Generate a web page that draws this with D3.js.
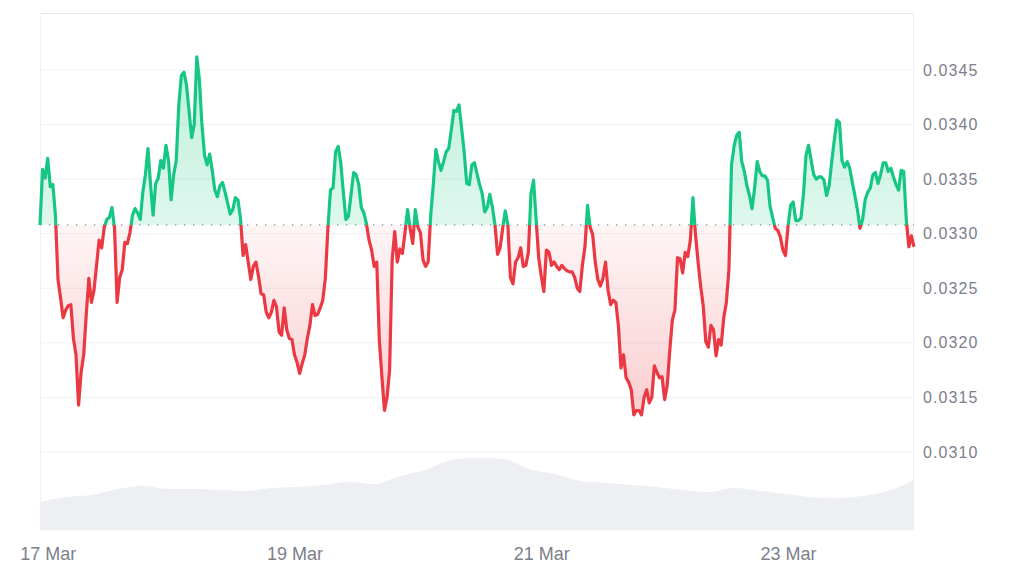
<!DOCTYPE html>
<html><head><meta charset="utf-8">
<script src="https://cdn.jsdelivr.net/npm/d3@7"></script>
<style>html,body{margin:0;padding:0;background:#fff;} svg{display:block;font-family:"Liberation Sans",Arial,sans-serif;}</style>
</head><body>
<svg id="chart" width="1024" height="576"></svg>
<script>
// ---- data ----
const startTime = Date.UTC(2024, 2, 16, 22, 30);
const stepHours = 0.5;
const prices = [
0.03308,0.03359,0.03351,0.03369,0.03343,0.03345,0.03317,0.03258,0.03241,0.03223,
0.03230,0.03234,0.03235,0.03204,0.03189,0.03143,0.03173,0.03189,0.03226,0.03259,
0.03237,0.03248,0.03271,0.03294,0.03287,0.03306,0.03313,0.03315,0.03324,0.03305,
0.03237,0.03260,0.03267,0.03292,0.03291,0.03301,0.03317,0.03323,0.03319,0.03313,
0.03338,0.03354,0.03378,0.03345,0.03317,0.03346,0.03351,0.03367,0.03360,0.03381,
0.03367,0.03331,0.03354,0.03367,0.03418,0.03445,0.03448,0.03436,0.03412,0.03388,
0.03400,0.03462,0.03441,0.03400,0.03372,0.03363,0.03373,0.03358,0.03340,0.03334,
0.03344,0.03347,0.03338,0.03328,0.03318,0.03322,0.03333,0.03331,0.03314,0.03280,
0.03290,0.03274,0.03258,0.03270,0.03274,0.03261,0.03245,0.03244,0.03228,0.03223,
0.03228,0.03239,0.03233,0.03210,0.03207,0.03232,0.03212,0.03204,0.03203,0.03189,
0.03182,0.03172,0.03181,0.03189,0.03204,0.03216,0.03235,0.03225,0.03226,0.03232,
0.03239,0.03259,0.03305,0.03340,0.03342,0.03375,0.03380,0.03365,0.03338,0.03313,
0.03316,0.03336,0.03356,0.03354,0.03345,0.03324,0.03319,0.03309,0.03294,0.03285,
0.03270,0.03274,0.03203,0.03169,0.03138,0.03150,0.03175,0.03276,0.03302,0.03274,
0.03286,0.03282,0.03301,0.03322,0.03305,0.03291,0.03322,0.03306,0.03301,0.03276,
0.03270,0.03274,0.03317,0.03345,0.03377,0.03366,0.03358,0.03366,0.03375,0.03378,
0.03395,0.03413,0.03412,0.03418,0.03397,0.03375,0.03346,0.03345,0.03363,0.03365,
0.03355,0.03345,0.03337,0.03320,0.03324,0.03336,0.03324,0.03308,0.03281,0.03287,
0.03305,0.03321,0.03308,0.03260,0.03254,0.03274,0.03278,0.03287,0.03270,0.03271,
0.03283,0.03337,0.03349,0.03313,0.03278,0.03261,0.03247,0.03285,0.03283,0.03271,
0.03274,0.03270,0.03267,0.03271,0.03268,0.03266,0.03265,0.03265,0.03260,0.03250,
0.03247,0.03271,0.03288,0.03326,0.03306,0.03299,0.03274,0.03258,0.03252,0.03259,
0.03274,0.03248,0.03235,0.03239,0.03237,0.03216,0.03177,0.03189,0.03168,0.03164,
0.03157,0.03134,0.03138,0.03138,0.03134,0.03150,0.03157,0.03145,0.03150,0.03179,
0.03173,0.03168,0.03169,0.03148,0.03161,0.03193,0.03221,0.03230,0.03278,0.03277,
0.03264,0.03283,0.03279,0.03294,0.03333,0.03299,0.03274,0.03252,0.03234,0.03201,
0.03196,0.03216,0.03212,0.03188,0.03203,0.03198,0.03223,0.03237,0.03267,0.03363,
0.03380,0.03390,0.03393,0.03366,0.03357,0.03344,0.03335,0.03323,0.03342,0.03366,
0.03357,0.03353,0.03353,0.03349,0.03325,0.03315,0.03305,0.03303,0.03297,0.03285,
0.03280,0.03307,0.03326,0.03329,0.03312,0.03312,0.03314,0.03336,0.03372,0.03381,
0.03367,0.03354,0.03350,0.03352,0.03352,0.03349,0.03335,0.03344,0.03366,0.03386,
0.03404,0.03402,0.03367,0.03361,0.03366,0.03360,0.03347,0.03335,0.03322,0.03305,
0.03313,0.03331,0.03338,0.03342,0.03354,0.03356,0.03346,0.03354,0.03365,0.03365,
0.03357,0.03360,0.03352,0.03345,0.03340,0.03358,0.03357,0.03313,0.03288,0.03298,
0.03288
];
const volumeStepHours = 5;
const volumes = [28,33,35,41,44,41,41,40,39,42,43,45,48,46,54,60,70,72,71,61,56,49,47,45,43,40,38,42,39,36,33,32,34,39,50];
const yTicks = [0.0310,0.0315,0.0320,0.0325,0.0330,0.0335,0.0340,0.0345];
const xTickDates = ["2024-03-17","2024-03-19","2024-03-21","2024-03-23"];
const xTickLabels = ["17 Mar","19 Mar","21 Mar","23 Mar"];

// ---- layout ----
const plot = {left:40, right:914, top:13, bottom:530};
const green = "#16c784", red = "#ea3943";
const svg = d3.select("#chart");

const times = prices.map((_, i) => new Date(startTime + i * stepHours * 3600e3));
const pts = prices.map((p, i) => ({t: times[i], v: p}));
const volPts = volumes.map((v, j) => ({t: new Date(startTime + j * volumeStepHours * 3600e3), v}));

const x = d3.scaleUtc().domain([times[0], times[times.length - 1]]).range([plot.left, plot.right]);
const y = d3.scaleLinear().domain([0.030285, 0.035022]).range([plot.bottom, plot.top]);
const yVol = d3.scaleLinear().domain([0, 100]).range([plot.bottom, plot.bottom - 100]);
const baseline = prices[0];
const yb = y(baseline);

const defs = svg.append("defs");
defs.append("clipPath").attr("id", "above").append("rect")
  .attr("x", 0).attr("y", 0).attr("width", 1024).attr("height", yb);
defs.append("clipPath").attr("id", "below").append("rect")
  .attr("x", 0).attr("y", yb).attr("width", 1024).attr("height", 576 - yb);

const gG = defs.append("linearGradient").attr("id", "gGreen").attr("gradientUnits", "userSpaceOnUse")
  .attr("x1", 0).attr("x2", 0).attr("y1", y(d3.max(prices))).attr("y2", yb);
gG.append("stop").attr("offset", 0).attr("stop-color", green).attr("stop-opacity", 0.28);
gG.append("stop").attr("offset", 1).attr("stop-color", green).attr("stop-opacity", 0.14);
const gR = defs.append("linearGradient").attr("id", "gRed").attr("gradientUnits", "userSpaceOnUse")
  .attr("x1", 0).attr("x2", 0).attr("y1", yb).attr("y2", y(d3.min(prices)));
gR.append("stop").attr("offset", 0).attr("stop-color", red).attr("stop-opacity", 0.05);
gR.append("stop").attr("offset", 1).attr("stop-color", red).attr("stop-opacity", 0.25);

// grid
svg.append("g").selectAll("line").data(yTicks).join("line")
  .attr("x1", plot.left).attr("x2", plot.right)
  .attr("y1", d => y(d)).attr("y2", d => y(d))
  .attr("stroke", "#eff1f4").attr("stroke-width", 1);
// frame
svg.append("line").attr("x1", plot.left).attr("x2", plot.right).attr("y1", plot.top + 0.5).attr("y2", plot.top + 0.5)
  .attr("stroke", "#e3e5ea").attr("stroke-width", 1.2);
svg.append("line").attr("x1", plot.left + 0.5).attr("x2", plot.left + 0.5).attr("y1", plot.top).attr("y2", plot.bottom)
  .attr("stroke", "#f0f1f4");
svg.append("line").attr("x1", plot.right - 0.5).attr("x2", plot.right - 0.5).attr("y1", plot.top).attr("y2", plot.bottom)
  .attr("stroke", "#f0f1f4");

// volume
svg.append("path").datum(volPts)
  .attr("d", d3.area().x(d => x(d.t)).y0(plot.bottom).y1(d => yVol(d.v)).curve(d3.curveMonotoneX))
  .attr("fill", "#edeff3");

// areas
const area = d3.area().x(d => x(d.t)).y0(yb).y1(d => y(d.v));
svg.append("path").datum(pts).attr("d", area).attr("fill", "url(#gGreen)").attr("clip-path", "url(#above)");
svg.append("path").datum(pts).attr("d", area).attr("fill", "url(#gRed)").attr("clip-path", "url(#below)");

// baseline dotted
svg.append("line").attr("x1", plot.left).attr("x2", plot.right).attr("y1", yb).attr("y2", yb)
  .attr("stroke", "#8a8f99").attr("stroke-width", 1.3).attr("stroke-dasharray", "1.3,7.7");

// lines
const line = d3.line().x(d => x(d.t)).y(d => y(d.v));
svg.append("path").datum(pts).attr("d", line).attr("fill", "none").attr("stroke", green)
  .attr("stroke-width", 3.2).attr("stroke-linejoin", "round").attr("clip-path", "url(#above)");
svg.append("path").datum(pts).attr("d", line).attr("fill", "none").attr("stroke", red)
  .attr("stroke-width", 3.2).attr("stroke-linejoin", "round").attr("clip-path", "url(#below)");

// y axis
const yAxis = svg.append("g").attr("transform", `translate(${plot.right},0)`)
  .call(d3.axisRight(y).tickValues(yTicks).tickFormat(d3.format(".4f")).tickSize(0).tickPadding(9));
yAxis.select(".domain").remove();
yAxis.selectAll("text").attr("fill", "#7b808b").style("font-size", "16px").style("letter-spacing", "1.1px")
  .style("font-family", '"Liberation Sans",Arial,sans-serif');

// x axis
const xAxis = svg.append("g").attr("transform", "translate(0,547)")
  .call(d3.axisBottom(x).tickValues(xTickDates.map(s => new Date(s + "T00:00:00Z")))
    .tickFormat((d, i) => xTickLabels[i]).tickSize(0).tickPadding(0));
xAxis.select(".domain").remove();
xAxis.selectAll("text").attr("fill", "#7b808b").style("font-size", "18px")
  .style("font-family", '"Liberation Sans",Arial,sans-serif');
</script>
</body></html>
